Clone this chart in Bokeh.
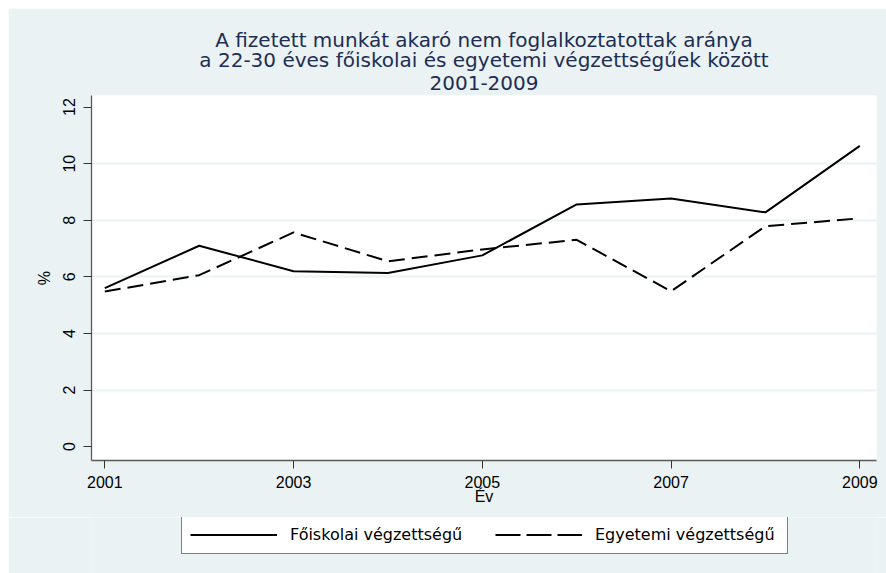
from bokeh.plotting import figure
from bokeh.layouts import column
from bokeh.models import Range1d, FixedTicker, Legend, LegendItem, Title
from bokeh.embed import file_html
from bokeh.resources import INLINE

# ---- data ----
years = [2001, 2002, 2003, 2004, 2005, 2006, 2007, 2008, 2009]
foiskolai = [5.60, 7.10, 6.20, 6.14, 6.76, 8.56, 8.77, 8.28, 10.63]
egyetemi = [5.48, 6.06, 7.57, 6.55, 6.97, 7.31, 5.49, 7.79, 8.07]
series_names = ["Főiskolai végzettségű", "Egyetemi végzettségű"]
x_ticks = [2001, 2003, 2005, 2007, 2009]
x_tick_labels = ["2001", "2003", "2005", "2007", "2009"]
y_ticks = [0, 2, 4, 6, 8, 10, 12]
y_tick_labels = ["0", "2", "4", "6", "8", "10", "12"]
grid_values = [2, 4, 6, 8, 10]
title_lines = [
    "A fizetett munkát akaró nem foglalkoztatottak aránya",
    "a 22-30 éves főiskolai és egyetemi végzettségűek között",
    "2001-2009",
]
x_label = "Év"
y_label = "%"

FONT = "Liberation Sans"
TFONT = "DejaVu Sans"
BG = "#EAF2F3"

p = figure(
    frame_width=785, frame_height=365,
    output_backend="svg", toolbar_location=None,
    x_range=Range1d(2000.859, 2009.177),
    y_range=Range1d(-0.49, 12.41),
    min_border_left=83, min_border_right=10,
    min_border_top=87, min_border_bottom=57,
    title=None,
)
p.margin = (8, 0, 0, 8)
p.border_fill_color = BG
p.background_fill_color = "white"
p.outline_line_color = None

# title lines (added nearest-to-frame first)
standoffs = [12, -8, -4]
for i, line in enumerate(reversed(title_lines)):
    t = Title(text=line, align="center", text_font=TFONT, text_font_size="20px",
              text_font_style="normal", text_color="#1E2D53",
              standoff=standoffs[i], offset=0)
    p.add_layout(t, "above")

# axes
for ax in (p.xaxis[0], p.yaxis[0]):
    ax.axis_line_color = "#5a5a5a"
    ax.axis_line_width = 1.3
    ax.major_tick_line_color = "#333333"
    ax.major_tick_out = 8
    ax.major_tick_in = 0
    ax.minor_tick_line_color = None
    ax.major_label_text_font = FONT
    ax.major_label_text_font_size = "16px"
    ax.major_label_text_color = "black"
    ax.axis_label_text_font = FONT
    ax.axis_label_text_font_size = "16px"
    ax.axis_label_text_font_style = "normal"
    ax.axis_label_text_color = "black"

p.xaxis.ticker = FixedTicker(ticks=x_ticks)
p.xaxis.major_label_overrides = dict(zip(x_ticks, x_tick_labels))
p.xaxis.axis_label = x_label
p.xaxis.major_label_standoff = 7
p.xaxis.axis_label_standoff = -3

p.yaxis.ticker = FixedTicker(ticks=y_ticks)
p.yaxis.major_label_overrides = dict(zip(y_ticks, y_tick_labels))
p.yaxis.major_label_orientation = "vertical"
p.yaxis.axis_label = y_label
p.yaxis.major_label_standoff = 8
p.yaxis.axis_label_standoff = 8

# grid
p.xgrid.visible = False
p.ygrid.ticker = FixedTicker(ticks=grid_values)
p.ygrid.grid_line_color = BG
p.ygrid.grid_line_width = 2

# lines
p.line(years, foiskolai, line_color="black", line_width=2)
p.line(years, egyetemi, line_color="black", line_width=2, line_dash="16 7")

# ---- legend strip below the plot ----
# same series are drawn here outside the visible range, only to key the legend
lg = figure(
    width=878, height=56, output_backend="svg", toolbar_location=None,
    x_axis_location=None, y_axis_location=None,
    min_border_left=83, min_border_right=10, min_border_top=0, min_border_bottom=0,
    x_range=Range1d(0, 1), y_range=Range1d(0, 1),
)
lg.margin = (0, 0, 0, 8)
lg.border_fill_color = BG
lg.background_fill_color = BG
lg.outline_line_color = None
lg.xgrid.visible = False
lg.ygrid.visible = False
k1 = lg.line(years, foiskolai, line_color="black", line_width=2)
k2 = lg.line(years, egyetemi, line_color="black", line_width=2, line_dash="25 6")

legend = Legend(
    items=[LegendItem(label=series_names[0], renderers=[k1]),
           LegendItem(label=series_names[1], renderers=[k2])],
    orientation="horizontal", location=(90, 19),
)
legend.label_text_font = TFONT
legend.label_text_font_size = "16px"
legend.label_text_color = "black"
legend.glyph_width = 87
legend.glyph_height = 21
legend.label_standoff = 13
legend.label_width = 184
legend.spacing = 21
legend.padding = 8
legend.margin = 0
legend.border_line_color = "black"
legend.border_line_width = 1
legend.background_fill_color = "white"
legend.background_fill_alpha = 1
lg.add_layout(legend, "center")

layout = column(p, lg, spacing=0)
open("out.html", "w").write(file_html(layout, INLINE))
